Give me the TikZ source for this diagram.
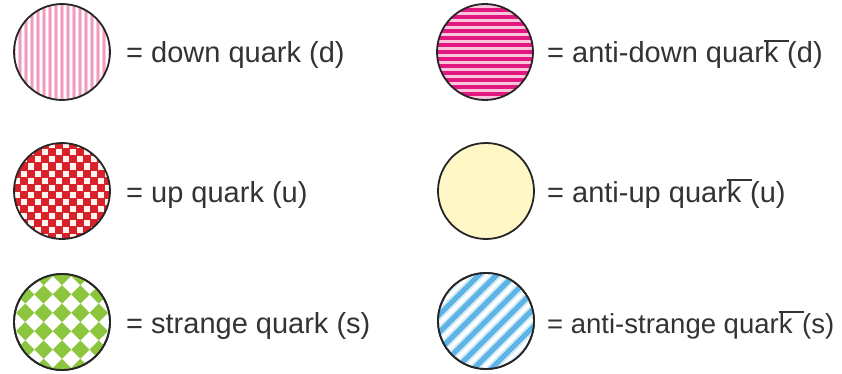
\documentclass[tikz,border=0pt]{standalone}
\usepackage{fontspec}
\setmainfont{Liberation Sans}
\definecolor{pinkbg}{HTML}{F9CADB}
\definecolor{pinkdk}{HTML}{F19CBF}
\definecolor{magbg}{HTML}{F8C6DC}
\definecolor{magdk}{HTML}{E0187F}
\definecolor{upred}{HTML}{D8222B}
\definecolor{upwhite}{HTML}{FFF4EE}
\definecolor{sgreen}{HTML}{8CC63F}
\definecolor{ayellow}{HTML}{FFF8C6}
\definecolor{sblue}{HTML}{5DB4E5}
\definecolor{sblue2}{HTML}{D6ECF8}
\definecolor{txt}{HTML}{333333}
\tikzset{
  quark/.style={circle, draw=black!85, line width=1.8pt, minimum size=96pt, inner sep=0pt},
  rim/.style={draw=black!85, line width=1.8pt},
  lbl/.style={anchor=base west, inner sep=0pt, font=\fontsize{29}{34}\selectfont, text=txt},
  downq/.style={quark, fill=pinkbg, path picture={
     \foreach \i in {-9,...,9} {
       \fill[pinkdk] ([xshift=\i*6pt-1.3pt,yshift=-52pt]path picture bounding box.center) rectangle ++(2.6pt,104pt);
       \fill[white] ([xshift=\i*6pt+2.4pt,yshift=-52pt]path picture bounding box.center) rectangle ++(1.1pt,104pt);
     }}},
  adownq/.style={quark, fill=magbg, path picture={
     \foreach \i in {-8,...,8} {
       \fill[magdk] ([xshift=-52pt,yshift=\i*7pt-2pt]path picture bounding box.center) rectangle ++(104pt,4pt);
     }}},
  upq/.style={quark, fill=upred, path picture={
     \begin{scope}[shift={(path picture bounding box.center)}]
     \foreach \i in {-4,...,3} \foreach \j in {-4,...,3} {
       \fill[upwhite] (\i*14pt+0.5pt,\j*14pt+0.5pt) rectangle ++(6pt,6pt);
       \fill[upwhite] (\i*14pt+7.5pt,\j*14pt+7.5pt) rectangle ++(6pt,6pt);
     }
     \end{scope}}},
  aupq/.style={quark, fill=ayellow},
  plainq/.style={quark, fill=white},
}
\newcommand{\kbar}[1]{quar\rlap{\rule[0.73em]{#1}{0.07em}}k}
\begin{document}
\begin{tikzpicture}[x=1pt,y=-1pt]
\useasboundingbox (0,0) rectangle (842,374);
\node[downq] (d) at (62,52) {};
\node[adownq] (ad) at (485,52) {};
\node[upq] (u) at (62,191) {};
\node[aupq] (au) at (486,191) {};
\node[plainq] (s) at (62,322) {};
\node[plainq] (as) at (486,321) {};
% strange quark: diamonds
\begin{scope}
  \clip (s.center) circle (48pt);
  \begin{scope}[shift={(s.center)}, rotate=45]
    \foreach \i in {-3,...,2} \foreach \j in {-3,...,2} {
      \fill[sgreen] (\i*26pt,\j*26pt) rectangle ++(13pt,13pt);
      \fill[sgreen] (\i*26pt+13pt,\j*26pt+13pt) rectangle ++(13pt,13pt);
    }
  \end{scope}
\end{scope}
\draw[rim] (s.center) circle (48pt);
% anti-strange quark: diagonal stripes
\begin{scope}
  \clip (as.center) circle (48pt);
  \begin{scope}[shift={(as.center)}, rotate=45]
    \foreach \i in {-5,...,5} {
      \fill[sblue2] (-60pt,\i*12.5pt-4.5pt) rectangle ++(120pt,9pt);
      \fill[sblue] (-60pt,\i*12.5pt-2.6pt) rectangle ++(120pt,5.2pt);
    }
  \end{scope}
\end{scope}
\draw[rim] (as.center) circle (48pt);
\node[lbl] (dl) at (126,63) {= down quark (d)};
\node[lbl] (adl) at (547,63) {= anti-down \kbar{0.85em}\hspace{0.3em}(d)};
\node[lbl] (ul) at (126,202) {= up quark (u)};
\node[lbl] (aul) at (547,202) {= anti-up \kbar{0.85em}\hspace{0.3em}(u)};
\node[lbl] (sl) at (126,333) {= strange quark (s)};
\node[lbl, font=\fontsize{27.5}{33}\selectfont] (asl) at (547,333) {= anti-strange \kbar{0.9em}\hspace{0.35em}(s)};
\end{tikzpicture}
\end{document}
